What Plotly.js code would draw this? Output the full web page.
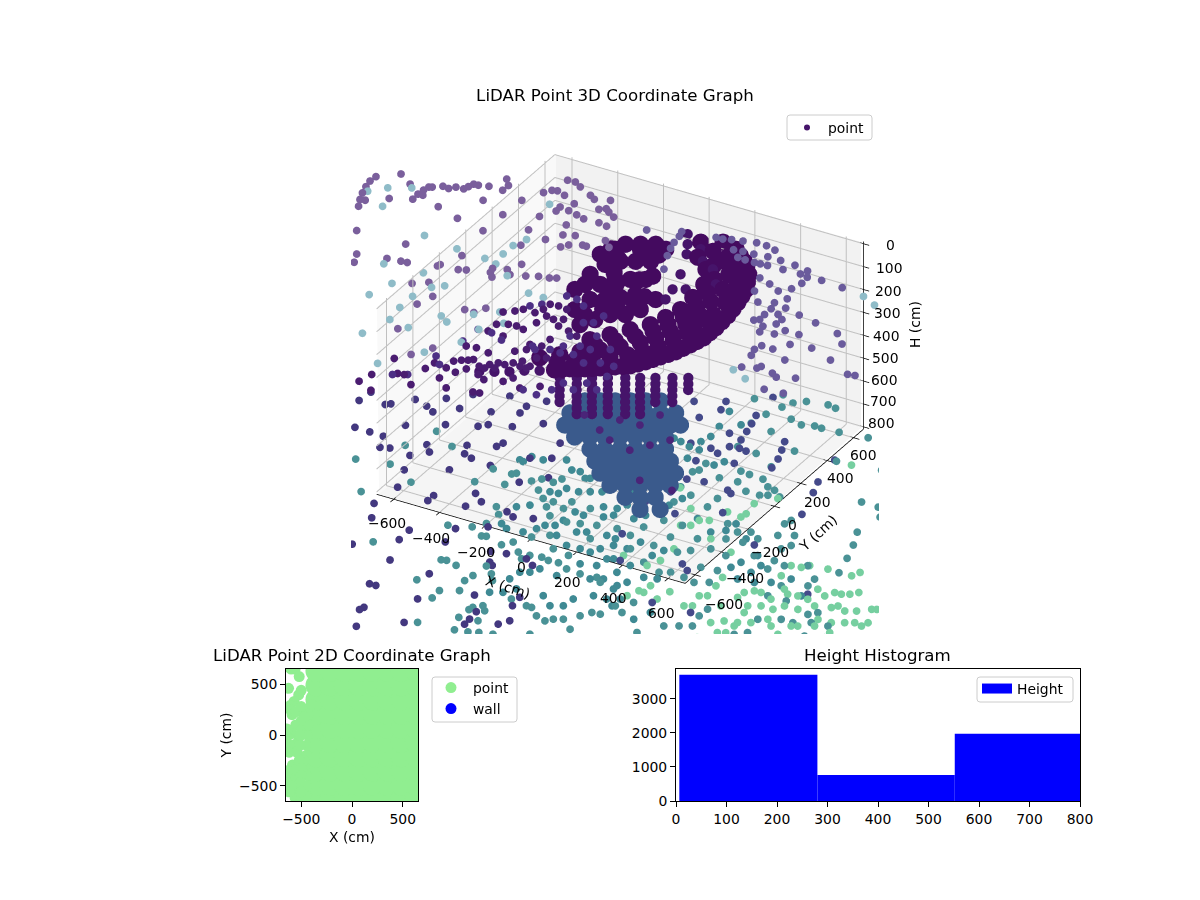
<!DOCTYPE html><html><head><meta charset="utf-8"><script src="https://cdn.plot.ly/plotly-3.0.0.min.js"></script></head><body style="margin:0;background:#fff"><div id="c" style="width:1200px;height:900px"></div><script>
// --- tick labels ---
const xTicks=[-600,-400,-200,0,200,400,600];
const yTicks=[-600,-400,-200,0,200,400,600];
const hTicks=[0,100,200,300,400,500,600,700,800];
// --- far upper cloud (cm) ---
const farX=[-1231,-1159,-1234,-1226,-1214,-1197,-1176,-1177,-1105,-1091,-1025,-1027,-1007,-1024,-1018,-1007,-975,-948,-929,-897,-890,-882,-863,-824,-793,-763,-764,-790,-913,-806,-671,-663,-1090,-878,-675,-529,-496,-437,-1001,-978,-885,-829,-803,-691,-687,-650,-609,-581,-501,-448,-421,-493,-470,-420,-363,-320,-278,-254,-708,-657,-591,-613,-436,-395,-372,-583,-395,-442,-621,-602,-582,-589,-557,-522,-542,-478,-457,-429,-376,-354,-372,-333,-298,-325,-390,-428,-470,-512,-510,-544,-424,-397,-354,-294,-277,-340,-359,-287,-236,-199];
const farY=[282,347,242,197,150,102,55,107,164,298,204,247,249,284,314,320,346,342,365,368,392,418,420,433,514,475,433,330,203,163,273,403,-108,-104,130,222,107,191,-262,-321,-234,-225,-222,-187,-173,-73,-172,-159,-99,-79,-17,-129,-157,-107,-86,-64,-54,-41,-350,-311,-396,-476,-422,-424,-373,-674,-735,-818,495,526,533,622,625,602,517,480,566,547,490,508,571,491,467,402,399,412,424,432,398,331,326,254,273,225,224,199,171,394,297,260];
const farH=[60,60,60,60,60,60,60,60,60,60,60,60,60,60,60,60,60,60,60,60,60,60,60,60,60,60,60,60,60,60,60,60,60,60,60,60,60,60,60,60,60,60,60,60,60,60,60,60,60,60,60,60,60,60,60,60,60,60,60,60,60,60,60,60,60,60,60,60,60,60,60,60,60,60,60,60,60,60,60,60,60,60,60,60,60,60,60,60,60,60,60,60,60,60,60,60,60,60,60,60];
// --- upper right cloud ---
const sideX=[-141,-20,-10,-4,7,24,64,115,143,174,217,268,312,356,219,256,302,358,262,295,336,360,390,414,479,530,542,565,570,624,719,456,412,467,522,557,581,554,611,682,765,877,932,955,848,755,763,805,724,665,677,675,672,695,616,569,552,605,642,640,610,566,566,497,444,1065,1094,909,842,814,752,744,690,848,926];
const sideY=[445,501,466,416,370,316,221,528,530,543,555,570,569,556,480,487,490,499,438,436,436,438,441,499,495,448,481,439,389,446,437,444,345,324,294,334,260,210,196,176,156,127,67,-60,-17,47,-34,-146,-97,-134,-179,-96,5,47,-9,72,57,34,114,74,140,164,114,183,249,-121,-115,-245,-275,-256,-233,-252,-274,-377,-367];
const sideH=[60,60,60,60,60,60,60,60,60,60,60,60,60,60,60,60,60,60,60,60,60,60,60,60,60,60,60,60,60,60,60,60,60,60,60,60,60,60,60,60,60,60,60,60,60,60,60,60,60,60,60,60,60,60,60,60,60,60,60,60,60,60,60,60,60,60,60,60,60,60,60,60,60,60,60];
// --- pale teal upper points ---
const paleX=[-1203,-1150,-1097,-1071,-849,-692,-564,-507,-521,-520,-499,-425,-875,-711,-592,-629,-774,-806,-657,-657,-489,-448,-644,-553,-682,-289,-224,-557,-518,-407,-324,-315,-312,-389,-256,822,891,673,746];
const paleY=[171,231,100,276,-12,-38,-48,-64,16,90,155,-119,-275,-259,-304,-339,-388,-505,-531,-434,-508,-537,-629,-647,-771,-193,-194,430,-940,-778,-642,-525,-371,-436,-438,420,384,-308,-344];
const paleH=[60,60,60,60,60,60,60,60,60,60,60,60,60,60,60,60,60,60,60,60,60,60,60,60,60,60,60,60,60,60,60,60,60,60,60,60,60,60,60];
// --- deep purple mid points ---
const deepX=[-277,-255,-233,-218,-174,-149,-146,-124,-96,-75,-51,-7,-17,16,-414,-388,-342,-333,-260,-276,-229,-206,-146,-108,-116,-38,-18,-40,-12,-200,-328,-438,-511,-495,-482,-97,-71,42,102,-301,-266,-245,-194,-179,-176,-142,-102,-276,-237,-204,-169,-151,-143,-108,-75,-278,-210,-90,-82,-45,-43,-66,-14,32,-293,-253,-195,-114];
const deepY=[-781,-760,-747,-733,-766,-767,-735,-708,-707,-680,-651,-670,-603,-584,-968,-963,-883,-829,-918,-839,-851,-808,-823,-845,-748,-820,-779,-689,-688,-971,-1016,-1129,-1092,-1024,-876,-947,-941,-832,-783,-365,-336,-309,-309,-271,-225,-220,-227,-458,-436,-431,-441,-372,-309,-318,-299,-518,-523,-527,-567,-516,-456,-352,-366,-384,-658,-650,-661,-600];
const deepH=[60,60,60,60,60,60,60,60,60,60,60,60,60,60,60,60,60,60,60,60,60,60,60,60,60,60,60,60,60,60,60,60,60,60,60,60,60,60,60,60,60,60,60,60,60,60,60,60,60,60,60,60,60,60,60,60,60,60,60,60,60,60,60,60,60,60,60,60];
// --- violet points beside the central mass ---
const midX=[-236,-203,-153,-107,-60,-317,-323,-260,-200,-75,-54,-5,26,10,81,41,91,156,127,98,36,44,3,-354,-311,-427,-377,59,122,153,166,224,243,301,284,268,193,211];
const midY=[-274,-241,-139,-142,-173,-526,-632,-523,-552,-533,-551,-522,-475,-396,-443,-525,-511,-547,-446,-346,-264,-201,-283,-781,-830,-985,-956,-837,-845,-783,-717,-742,-673,-698,-591,-512,-408,-515];
const midH=[60,60,60,60,60,60,60,60,60,60,60,60,60,60,60,60,60,60,60,60,60,60,60,60,60,60,60,60,60,60,60,60,60,60,60,60,60,60];
// --- violet-blue points low down, left ---
const vioX=[-1073,-1080,-979,-963,-900,-837,-795,-802,-720,-729,-604,-602,-505,-509,-462,-834,-992,-926,-865,-834,-799,-690,-654,-705,-669,-521,-556,-532,-493,-403,-446,-455,-705,-592,-565,-478,-388,-259,-166,-245,-301,-229,-625,-475,-475,-330,-346,-295,-641,-173,-134,-61,-178,-278,-424,-421,-261,-76,-16,-39,-18,69,114,-193,-374,-558,-594,-351,-324,-136,36,193,224,201,105,111,114,249,-91,-280,-286,-233];
const vioY=[-30,-107,-84,-69,6,-16,-42,72,31,148,68,207,116,172,243,-182,-291,-293,-296,-375,-361,-269,-312,-371,-477,-391,-197,-257,-273,-285,-114,-148,-102,-51,-21,11,90,-6,-255,-340,-162,-121,-603,-634,-590,-599,-496,-540,-754,-557,-579,-552,-692,-765,-863,-944,-872,-848,-833,-920,-937,-829,-861,-1111,-1095,-1063,-853,-1290,-1289,-1298,-1165,-1094,-1311,-1163,-1271,-1332,-1375,-1267,-1478,-1455,-1478,-1594];
const vioH=[800,800,800,800,800,800,800,800,800,800,800,800,800,800,800,800,800,800,800,800,800,800,800,800,800,800,800,800,800,800,800,800,800,800,800,800,800,800,800,800,800,800,800,800,800,800,800,800,800,800,800,800,800,800,800,800,800,800,800,800,800,800,800,800,800,800,800,800,800,800,800,800,800,800,800,800,800,800,800,800,800,800];
// --- violet-blue points low down, right ---
const vioRX=[266,127,142,100,22,259,255,296,310,349,381,279,296,309,322,472,494,516,529,253,389,469,492,360,293,288,385,242,288,600,641,647,811,383,734,759,804,764,538,28,96,170,1126,706];
const vioRY=[697,582,518,426,522,380,246,226,292,300,294,547,484,424,358,429,369,303,233,136,191,3,-13,13,-2,-116,-251,-226,-483,-567,-601,-877,-870,-662,228,149,-15,-306,-154,247,154,241,-528,403];
const vioRH=[800,800,800,800,800,800,800,800,800,800,800,800,800,800,800,800,800,800,800,800,800,800,800,800,800,800,800,800,800,800,800,800,800,800,800,800,800,800,800,800,800,800,800,800];
// --- teal floor points ---
const tealX=[-869,-737,-728,-759,-709,-601,-600,-393,-381,-301,-288,-284,-209,-183,-133,-117,-152,-105,-59,2,-62,0,88,112,173,61,-17,-190,-196,-230,-316,-227,-165,-148,-66,-38,17,53,67,113,147,189,239,302,202,194,57,3,119,-498,-207,-187,-137,-211,-96,-30,-51,-43,-35,11,40,-92,73,129,104,77,69,145,102,154,192,245,172,247,270,318,365,386,419,479,366,461,370,400,539,487,521,484,-47,210,332,307,353,511,542,615,731,716,463,408,391,475,512,289,389,292,337,423,540,523,481,440,543,588,623,665,620,593,533,470,395,296,284,299,302,367,467,466,596,660,704,716,752,805,792,783,860,887,867,889,941,899,804,1007,1081,1095,1091,1018,953,1053,1089,1119,1147,898,1027,1071,1203,1229,1001,1057,1134,1185,1245,1313,1346,1274,1074,1037,854,852,868,824,774,711,586,586,555,467,372,436,459,539,576,636,648,454,374,333,321,252,308,337,554,711,740,673,656,758,708,593];
const tealY=[-498,-466,-701,-314,-162,-233,-545,-421,-302,-300,-286,-382,-309,-276,-276,-238,-355,-401,-404,-369,-450,-429,-378,-496,-476,-511,-502,-591,-673,-722,-757,-544,-764,-757,-784,-744,-800,-838,-800,-789,-798,-794,-819,-826,-576,-727,-630,-676,-712,-1008,-997,-990,-1005,-1174,-1202,-1164,-1089,-1040,-952,-994,-1036,-1264,-1271,-1249,-1219,-1249,-1341,-1327,-1431,-1419,-1402,-1387,-1121,-1137,-1138,-1184,-1201,-1174,-1155,-1208,-1317,-1101,-817,-843,-969,-1057,-1052,-1293,-1452,654,651,574,698,589,587,594,613,399,571,589,734,753,745,734,470,487,308,298,386,239,147,153,142,101,91,57,46,30,30,77,68,137,57,81,-64,-100,-71,-145,-217,-253,-228,-310,-259,-199,-75,-110,-168,-240,-281,-371,-385,-438,-376,-523,-613,-473,-416,-341,179,-27,-119,-218,-328,426,177,115,-660,-630,-614,-787,-743,-743,-708,-699,-782,-809,-894,-931,-816,-876,-955,-980,-1009,-1103,-1000,-912,-666,-629,-566,-500,-413,-499,-463,-414,-320,-314,-316,-398,-478,-459,-251,-176,-373,-430,-544,-554,-652,-637,-666,-644];
const tealH=[800,800,800,800,800,800,800,800,800,800,800,800,800,800,800,800,800,800,800,800,800,800,800,800,800,800,800,800,800,800,800,800,800,800,800,800,800,800,800,800,800,800,800,800,800,800,800,800,800,800,800,800,800,800,800,800,800,800,800,800,800,800,800,800,800,800,800,800,800,800,800,800,800,800,800,800,800,800,800,800,800,800,800,800,800,800,800,800,800,800,800,800,800,800,800,800,800,800,800,800,800,800,800,800,800,800,800,800,800,800,800,800,800,800,800,800,800,800,800,800,800,800,800,800,800,800,800,800,800,800,800,800,800,800,800,800,800,800,800,800,800,800,800,800,800,800,800,800,800,800,800,800,800,800,800,800,800,800,800,800,800,800,800,800,800,800,800,800,800,800,800,800,800,800,800,800,800,800,800,800,800,800,800,800,800,800,800,800,800,800,800,800,800,800,800,800,800,800,800,800,800,800,800,800,800,800,800,800,800,800];
const teal2X=[-310,-328,-301,-251,-174,-119,-85,-43,-30,-29,38,77,63,24,-14,-66,-74,-108,-27,125,190,163,91,51,44,36,132,165,244,304,273,253,207,150,79,3,-12,-44,-111,-146,-161,-123,325,333,417,398,354,264,232,469,485,429,375,368,324,264,150,119,75,90,98,131,151,131,96,178,197,223,210,200,176,265,350,329,216,145,144,137,80,98,167,187,230,201,352,334,246,196,176,295,269,285,361,380,469,488,355,435,524,574,488,468,529,528,679,650,478,572,616,624,714,815,857,786,772,838,864,961,1014,1111,906];
const teal2Y=[-197,-192,-148,-148,-104,-160,-155,-190,-124,-50,-114,-208,-246,-268,-290,-291,-339,-344,-180,-342,-378,-408,-435,-429,-506,-555,-558,-539,-523,-576,-623,-664,-661,-665,-618,-574,-612,-659,-668,-645,-506,-470,-740,-677,-746,-815,-840,-760,-882,-862,-941,-944,-1004,-1067,-1092,-1039,-1045,-1093,-1118,-992,-929,-910,-869,233,242,216,271,213,323,405,523,457,183,142,136,80,6,-57,-60,-167,-186,-145,-91,10,-138,-207,-170,-286,-327,-318,-362,-529,-572,-503,-569,-514,-664,-676,-728,-713,-792,-833,-915,-975,-946,-1022,-241,-304,-265,-202,-282,-369,-492,-445,-497,-561,-429,-520,-460,-551,-552];
const teal2H=[800,800,800,800,800,800,800,800,800,800,800,800,800,800,800,800,800,800,800,800,800,800,800,800,800,800,800,800,800,800,800,800,800,800,800,800,800,800,800,800,800,800,800,800,800,800,800,800,800,800,800,800,800,800,800,800,800,800,800,800,800,800,800,800,800,800,800,800,800,800,800,800,800,800,800,800,800,800,800,800,800,800,800,800,800,800,800,800,800,800,800,800,800,800,800,800,800,800,800,800,800,800,800,800,800,800,800,800,800,800,800,800,800,800,800,800,800,800,800,800,800,800,800];
// --- pale green floor points ---
const greenX=[235,304,418,490,523,551,614,619,607,665,481,515,578,559,664,764,803,793,783,911,908,973,915,953,1003,928,938,969,963,1017,1069,1060,1100,1145,1097,1200,1215,1236,1264,1287,1254,1311,1350,1410,1432,1423,1355,1344,1269,1180,1192,1090,1151,1140,1024,1003,780,448,515,490,375,598,715,792,776,885,1003,1047,966,1024,1030,1193,1188,1208,1270,1255,1214,1094,1126,987,975,1005,650,581,539,1393,1388,1311];
const greenY=[-24,-72,-188,-249,-230,-140,-148,-117,-35,43,-298,-586,-770,-825,-773,-839,-728,-647,-579,-637,-682,-718,-898,-862,-936,-1022,-607,-457,-372,-693,-693,-566,-558,-561,-325,-324,-286,-464,-448,-420,-571,-568,-546,-497,-601,-635,-645,-739,-724,-848,-768,-768,-646,-476,-337,-364,402,-317,-484,-644,-623,-348,-398,-823,-744,-769,-847,-822,-605,-630,-539,-592,-507,-466,-548,-674,-756,-649,-806,-769,-951,-876,-845,-827,-880,-506,-626,-670];
const greenH=[800,800,800,800,800,800,800,800,800,800,800,800,800,800,800,800,800,800,800,800,800,800,800,800,800,800,800,800,800,800,800,800,800,800,800,800,800,800,800,800,800,800,800,800,800,800,800,800,800,800,800,800,800,800,800,800,800,800,800,800,800,800,800,800,800,800,800,800,800,800,800,800,800,800,800,800,800,800,800,800,800,800,800,800,800,800,800,800];
// --- dense ring ---
const ringX=[-27,19,68,115,160,206,241,271,302,324,341,343,336,319,297,249,184,112,42,-121,-67,-12,46,101,152,183,209,228,232,227,221,183,118,44,-31,-25,22,69,116,139,158,152,139,89,16,-115,-85,-54,-4,26,38,-177,-128,-86,-47,-201,-171,-121,-71,-272,-261,-222,-172,-123,-270,-221,-171,-119,-285,-189,-251,-265,-315,-47,3,57,108,156,195,225,250,267,278,284,285,278,270,240,184,114,-4,44,92,138,183,224,256,287,313,333,342,340,328,308,273,217,148,11,62,111,150,174,193,192,183,155,100,-140,-100,-130,-60,-30,-10,-150,-90,-200,-240,-160,-200,-120,-300,-60];
const ringY=[-451,-415,-387,-352,-317,-281,-226,-165,-103,-29,42,131,233,338,439,543,620,684,706,-400,-342,-284,-233,-175,-111,-49,19,101,191,293,395,505,582,627,664,-186,-115,-44,27,103,183,286,392,495,559,-106,-45,17,46,107,202,78,106,149,197,196,257,286,315,243,337,386,415,443,508,536,565,551,455,-17,167,115,394,-396,-350,-310,-264,-214,-165,-103,-32,44,81,167,212,314,366,472,562,624,-433,-401,-370,-335,-299,-254,-196,-134,-66,6,87,182,286,388,491,582,652,-210,-145,-78,-11,61,142,239,343,445,532,-30,40,140,80,150,200,230,300,300,400,480,500,500,450,350];
const ringH=[190,190,190,190,190,190,190,190,190,190,190,190,190,190,190,190,190,190,190,190,190,190,190,190,190,190,190,190,190,190,190,190,190,190,190,190,190,190,190,190,190,190,190,190,190,190,190,190,190,190,190,190,190,190,190,190,190,190,190,190,190,190,190,190,190,190,190,190,190,190,190,190,190,190,190,190,190,190,190,190,190,190,190,190,190,190,190,190,190,190,190,190,190,190,190,190,190,190,190,190,190,190,190,190,190,190,190,190,190,190,190,190,190,190,190,190,190,190,190,190,190,190,190,190,190,190,190,190,190,190,190,190,190,190,190,190,190,190,190,190,190,190];
// --- ribs below and around the ring ---
const ribX=[-74,-29,17,-18,27,73,119,32,77,123,169,84,129,175,221,141,186,232,278,190,235,281,327,240,285,331,296,341,387,348,393,-51,-6,5,50,96,55,100,146,107,152,198,164,209,255,213,258,304,263,308,319,364,371,-104,-66,-31,-4,49,112,179,56,71,99,25,-266,-216,-167,-122,-72];
const ribY=[-329,-408,-488,-297,-376,-456,-535,-268,-347,-427,-506,-238,-317,-397,-476,-205,-284,-364,-443,-177,-256,-336,-415,-148,-227,-307,-116,-195,-275,-86,-165,-369,-448,-337,-416,-495,-308,-387,-466,-278,-357,-436,-245,-324,-403,-217,-296,-375,-188,-267,-156,-235,-126,691,625,557,617,542,508,415,300,221,325,414,-606,-578,-549,-514,-485];
const ribH=[300,300,300,300,300,300,300,300,300,300,300,300,300,300,300,300,300,300,300,300,300,300,300,300,300,300,300,300,300,300,300,300,300,300,300,300,300,300,300,300,300,300,300,300,300,300,300,300,300,300,300,300,300,190,190,190,190,190,190,190,190,190,190,190,190,190,190,190,190];
// --- central column ---
const colX=[-165,-115,-66,-16,34,83,-169,-120,-70,-21,29,79,128,178,-140,-90,-41,9,59,108,158,207,240,-62,-12,37,87,137,186,236,34,83,133,183,232,282,96,146,196,245,295,344,158,207,257,307,356,406,237,287,336,386,435,332,381,431,427,493];
const colY=[19,48,76,105,134,162,-88,-60,-31,-3,26,55,83,112,-178,-149,-121,-92,-63,-35,-6,22,41,-238,-209,-181,-152,-123,-95,-66,-288,-260,-231,-202,-174,-145,-358,-329,-300,-272,-243,-215,-427,-399,-370,-341,-313,-284,-488,-459,-431,-402,-374,-538,-510,-481,-589,-551];
const colH=[600,600,600,600,600,600,600,600,600,600,600,600,600,600,600,600,600,600,600,600,600,600,600,600,600,600,600,600,600,600,600,600,600,600,600,600,600,600,600,600,600,600,600,600,600,600,600,600,600,600,600,600,600,600,600,600,600,600];
// --- violet points in front of the column ---
const frontX=[283,368,255,148,396,524,477,430,326,721,577];
const frontY=[-492,-487,-596,-526,-383,-529,-600,-671,-643,-855,-850];
const frontH=[300,300,300,300,300,300,300,300,300,300,300];
// --- 2D plot ---
const edgeX=[-625,-600,-560,-520,-525,-500,-570,-610,-605,-590,-550,-450,-400,-460,-500,-553,-490,-586,-520,-560,-610,-620,-540,-586,-602,-550,-620,-560,-520,-580,-560,-500,-450,-450,-450,-470,-450,-450,-440,-430,-430,-480,-520,-500,-500,-510,-500,-620,-600,-630,-640,-640,-510,-510,-500,-470];
const edgeY=[460,650,650,575,395,440,330,290,247,200,230,250,300,220,140,99,60,16,-20,-90,-100,-170,-170,-296,-395,-340,-470,-450,-540,-560,-620,-620,-600,-500,-400,-300,-200,-100,0,100,200,-250,-250,-330,-400,-470,-560,-560,-500,-350,-20,60,-100,0,280,180];
const fillX=[-350,-350,-350,-350,-350,-350,-350,-350,-350,-350,-210,-210,-210,-210,-210,-210,-210,-210,-210,-210,-70,-70,-70,-70,-70,-70,-70,-70,-70,-70,70,70,70,70,70,70,70,70,70,70,210,210,210,210,210,210,210,210,210,210,350,350,350,350,350,350,350,350,350,350,490,490,490,490,490,490,490,490,490,490,630,630,630,630,630,630,630,630,630,630];
const fillY=[-630,-490,-350,-210,-70,70,210,350,490,630,-630,-490,-350,-210,-70,70,210,350,490,630,-630,-490,-350,-210,-70,70,210,350,490,630,-630,-490,-350,-210,-70,70,210,350,490,630,-630,-490,-350,-210,-70,70,210,350,490,630,-630,-490,-350,-210,-70,70,210,350,490,630,-630,-490,-350,-210,-70,70,210,350,490,630,-630,-490,-350,-210,-70,70,210,350,490,630];
// --- histogram ---
const binLeft=[6.6,280,552];
const binWidth=[273.4,272,273];
const binCount=[3706,765,1970];

const R=675,Hlo=-10,Hhi=810;
function seg(list){const x=[],y=[],z=[];list.forEach(s=>{x.push(s[0],s[3],null);y.push(s[1],s[4],null);z.push(s[2],s[5],null);});return{x,y,z};}
const grid=[];
xTicks.forEach(t=>{grid.push([t,-R,Hhi,t,R,Hhi],[t,R,Hhi,t,R,Hlo]);});
yTicks.forEach(t=>{grid.push([-R,t,Hhi,R,t,Hhi],[-R,t,Hhi,-R,t,Hlo]);});
hTicks.forEach(t=>{grid.push([-R,-R,t,-R,R,t],[-R,R,t,R,R,t]);});
const ax=[[-R,-R,Hhi,R,-R,Hhi],[R,-R,Hhi,R,R,Hhi],[R,R,Hlo,R,R,Hhi]];
xTicks.forEach(t=>ax.push([t,-R+15,Hhi,t,-R-25,Hhi]));
yTicks.forEach(t=>ax.push([R-15,t,Hhi,R+25,t,Hhi]));
hTicks.forEach(t=>ax.push([R-15,R,t,R+25,R,t]));
const g=seg(grid),a=seg(ax);
function pts(x,y,z,color,size,extra){return Object.assign({type:'scatter3d',mode:'markers',x,y,z,marker:{size,color,line:{width:0}},showlegend:false,hoverinfo:'skip'},extra||{});}
const traces=[
 {type:'scatter3d',mode:'lines',x:g.x,y:g.y,z:g.z,line:{color:'#c0c0c0',width:2},showlegend:false,hoverinfo:'skip'},
 {type:'scatter3d',mode:'lines',x:a.x,y:a.y,z:a.z,line:{color:'#000',width:1.5},showlegend:false,hoverinfo:'skip'},
 pts(farX,farY,farH,'#7a5f9c',4.5),
 pts(sideX,sideY,sideH,'#6a5b9c',4.5),
 pts(paleX,paleY,paleH,'#8fbcc8',4.5),
 pts(deepX,deepY,deepH,'#4a1c70',4.5),
 pts(midX,midY,midH,'#4d2f85',4.5),
 pts(vioX,vioY,vioH,'#43387f',4.5),
 pts(vioRX,vioRY,vioRH,'#454a8a',4.5),
 pts(tealX,tealY,tealH,'#4a9296',4.5),
 pts(teal2X,teal2Y,teal2H,'#3f8a94',4.5),
 pts(greenX,greenY,greenH,'#76cfa0',4.5),
 pts(colX,colY,colH,'#3a5a8c',10),
 pts(ribX,ribY,ribH,'#46146a',6,{name:'point',showlegend:true,legend:'legend'}),
 pts(frontX,frontY,frontH,'#4a2478',4.5),
 pts(ringX,ringY,ringH,'#440a5f',10),
 {type:'scatter',mode:'markers',x:fillX,y:fillY,xaxis:'x',yaxis:'y',marker:{size:22,color:'#90ee90'},showlegend:false,hoverinfo:'skip'},
 {type:'scatter',mode:'markers',x:edgeX,y:edgeY,xaxis:'x',yaxis:'y',name:'point',marker:{size:11,color:'#90ee90'},legend:'legend2',hoverinfo:'skip'},
 {type:'scatter',mode:'markers',x:[null],y:[null],xaxis:'x',yaxis:'y',name:'wall',marker:{size:11,color:'#0000ff'},legend:'legend2',hoverinfo:'skip'},
 {type:'bar',x:binLeft,y:binCount,width:binWidth,offset:0,xaxis:'x2',yaxis:'y2',marker:{color:'#0000ff',line:{width:0}},showlegend:false,hoverinfo:'skip'},
 {type:'scatter',mode:'lines',x:[null],y:[null],xaxis:'x2',yaxis:'y2',name:'Height',line:{color:'#0000ff',width:10},legend:'legend3',hoverinfo:'skip'}
];
const F='"DejaVu Sans"',W=1200,Ht=900;
function pane(c,col){return{type:'path',xref:'paper',yref:'paper',layer:'below',line:{width:0},fillcolor:col,path:c.map((p,i)=>(i?'L':'M')+(p[0]/W)+','+(1-p[1]/Ht)).join(' ')+' Z'};}
function box(x0,y0,x1,y1){const px=v=>v/W,py=v=>1-v/Ht,r=3;return{type:'path',xref:'paper',yref:'paper',layer:'above',line:{width:1,color:'#cccccc'},path:`M${px(x0+r)},${py(y0)} L${px(x1-r)},${py(y0)} Q${px(x1)},${py(y0)} ${px(x1)},${py(y0+r)} L${px(x1)},${py(y1-r)} Q${px(x1)},${py(y1)} ${px(x1-r)},${py(y1)} L${px(x0+r)},${py(y1)} Q${px(x0)},${py(y1)} ${px(x0)},${py(y1-r)} L${px(x0)},${py(y0+r)} Q${px(x0)},${py(y0)} ${px(x0+r)},${py(y0)} Z`};}
const LF=[379,494],LT=[377,307],BT=[556,155],BF=[556,341],RT=[861,242],RF=[861,428],FF=[686,583];
function ann(px,py,text,size,extra){return Object.assign({xref:'paper',yref:'paper',x:px/W,y:1-py/Ht,xanchor:'center',yanchor:'middle',text,showarrow:false,font:{family:F,size,color:'#000'}},extra||{});}
const xLabPos=[[387,523],[431,538],[476,552],[521,567],[567,582],[613,598],[661,613]];
const yLabPos=[[724,604],[745,578],[770,552],[792,525],[817,502],[840,478],[863,455]];
const hLabPos=[[890,245],[889,268],[888,291],[887,313],[886,336],[885,358],[884,380],[883,401],[881,423]];
const anns=[ann(352,655,'LiDAR Point 2D Coordinate Graph',16.67),ann(877,655,'Height Histogram',16.67),
 ann(508,587,'X (cm)',13.9,{textangle:18}),ann(818,533,'Y (cm)',13.9,{textangle:-43}),ann(915,325,'H (cm)',13.9,{textangle:-90})];
const minus=v=>v<0?'\u2212'+(-v):''+v;
xTicks.forEach((t,i)=>anns.push(ann(xLabPos[i][0],xLabPos[i][1],minus(t),13.9)));
yTicks.forEach((t,i)=>anns.push(ann(yLabPos[i][0],yLabPos[i][1],minus(t),13.9)));
hTicks.forEach((t,i)=>anns.push(ann(hLabPos[i][0],hLabPos[i][1],minus(t),13.9)));
const cart={showline:true,mirror:true,linecolor:'#000',linewidth:1,ticks:'outside',ticklen:5,tickcolor:'#000',showgrid:false,zeroline:false,tickfont:{family:F,size:13.9,color:'#000'}};
const hid={visible:false,showgrid:false,zeroline:false,showspikes:false};
const legendBase={bgcolor:'rgba(0,0,0,0)',borderwidth:0,font:{family:F,size:13.9,color:'#000'},xanchor:'left',yanchor:'top',xref:'paper',yref:'paper'};
const layout={width:W,height:Ht,margin:{l:0,r:0,t:0,b:0},paper_bgcolor:'#fff',plot_bgcolor:'#fff',
 title:{text:'LiDAR Point 3D Coordinate Graph',x:615/W,xanchor:'center',y:1-95/Ht,yanchor:'middle',font:{family:F,size:16.67,color:'#000'}},
 scene:{domain:{x:[351/W,879/W],y:[266/Ht,760/Ht]},bgcolor:'rgba(0,0,0,0)',
  camera:{projection:{type:'orthographic'},eye:{x:2.6,y:-4.5,z:3},up:{x:0,y:0,z:1},center:{x:0,y:0,z:0}},
  aspectmode:'manual',aspectratio:{x:3.42,y:3.42,z:2.14},
  xaxis:Object.assign({range:[-1622,1578]},hid),yaxis:Object.assign({range:[-1600,1600]},hid),zaxis:Object.assign({range:[1490,-510]},hid)},
 xaxis:Object.assign({domain:[286/W,418/W],range:[-650,650],anchor:'y',tickvals:[-500,0,500],title:{text:'X (cm)',font:{family:F,size:13.9,color:'#000'},standoff:6}},cart),
 yaxis:Object.assign({domain:[99/Ht,231/Ht],range:[-650,650],anchor:'x',tickvals:[-500,0,500],title:{text:'Y (cm)',font:{family:F,size:13.9,color:'#000'},standoff:4}},cart),
 xaxis2:Object.assign({domain:[676/W,1080/W],range:[0,800],anchor:'y2',tickvals:[0,100,200,300,400,500,600,700,800]},cart),
 yaxis2:Object.assign({domain:[99/Ht,231/Ht],range:[0,3873],anchor:'x2',tickvals:[0,1000,2000,3000]},cart),
 legend:Object.assign({x:786/W,y:1-112/Ht,itemwidth:32,itemsizing:'trace'},legendBase),
 legend2:Object.assign({x:429/W,y:1-672/Ht,itemwidth:34},legendBase),
 legend3:Object.assign({x:977/W,y:1-673/Ht},legendBase),
 annotations:anns,
 shapes:[pane([LF,LT,BT,BF],'#f9f9f9'),pane([BT,RT,RF,BF],'#f2f2f2'),pane([LF,FF,RF,BF],'#f5f5f5'),box(787,115,872,140),box(432,677,517,722),box(977,677,1073,702)]};
Plotly.newPlot('c',traces,layout,{displayModeBar:false});
</script></body></html>
